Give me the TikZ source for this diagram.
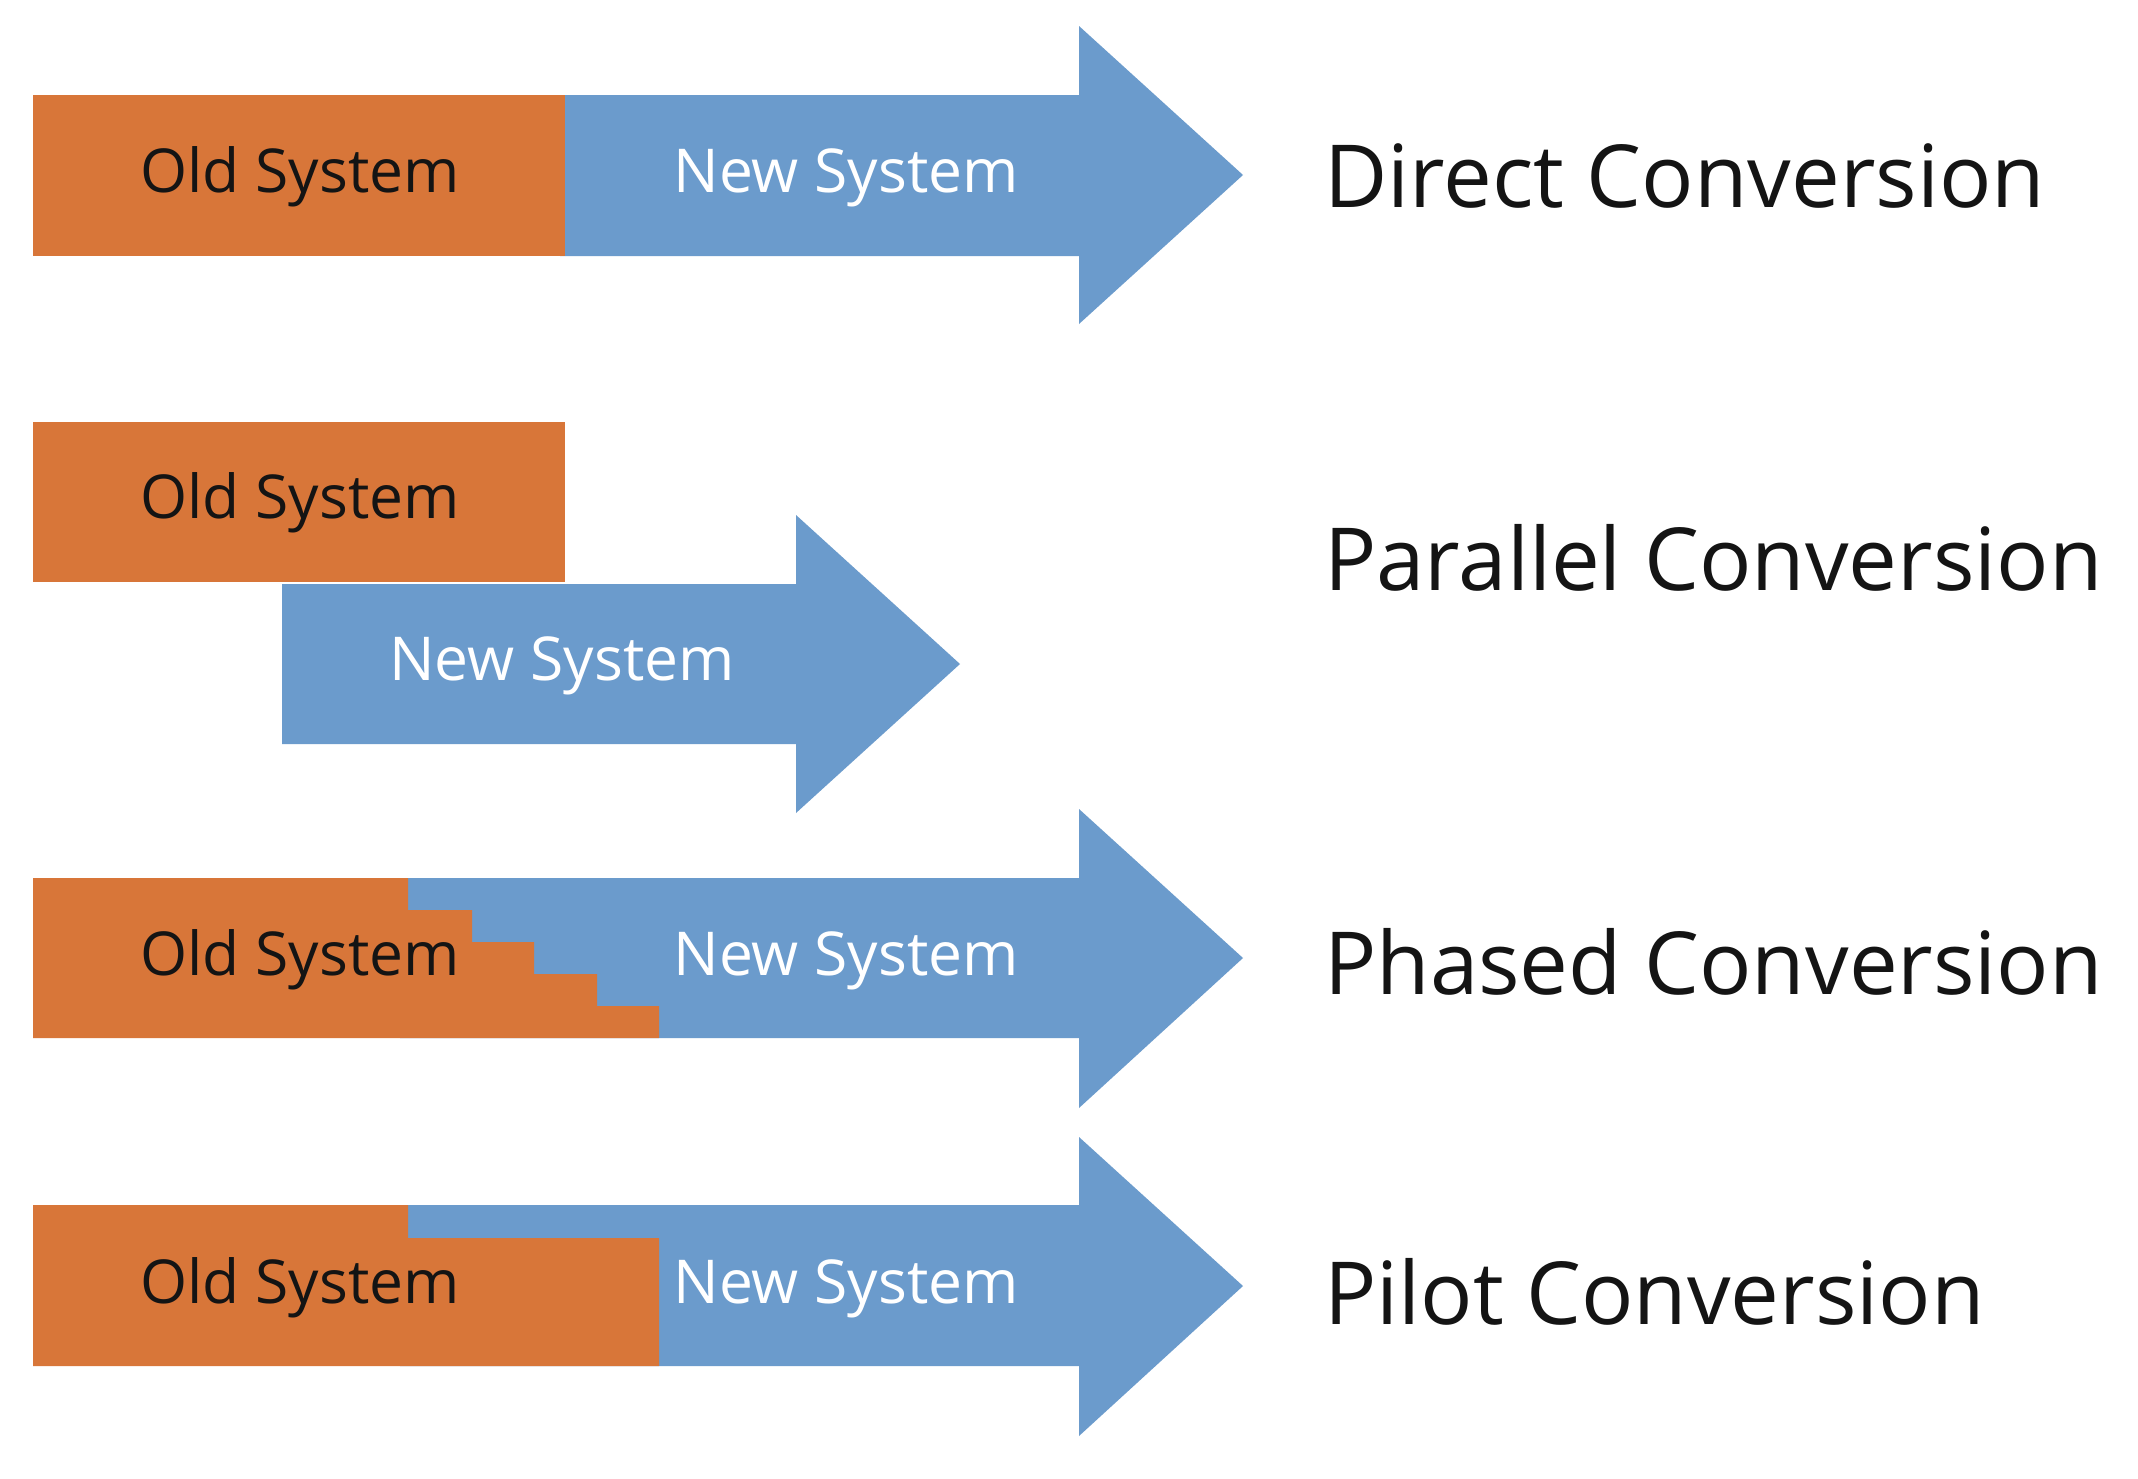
\documentclass[tikz,border=0pt]{standalone}
\usepackage{fontspec}
\setmainfont{Open Sans}
\definecolor{oldc}{RGB}{216,118,57}
\definecolor{newc}{RGB}{107,155,204}
\definecolor{txt}{RGB}{20,20,20}
\begin{document}
\begin{tikzpicture}[x=1pt,y=-1pt,
  boxtext/.style={inner sep=0pt,anchor=base,font=\fontsize{60.5}{70}\selectfont},
  oldtext/.style={boxtext,text=txt},
  newtext/.style={boxtext,text=white},
  label/.style={inner sep=0pt,anchor=base west,text=txt,font=\fontsize{87}{96}\selectfont}]
\useasboundingbox[fill=white] (0,0) rectangle (2138,1478);
% Row 1: Direct
\fill[newc] (560,95) -- (1079,95) -- (1079,26) -- (1243,175) -- (1079,324) -- (1079,256) -- (560,256) -- cycle;
\fill[oldc] (33,95) rectangle (565,256);
\node[oldtext] (o1) at (300,192) {Old System};
\node[newtext] (n1) at (846,192) {New System};
\node[label] (l1) at (1324,207) {Direct Conversion};
% Row 2: Parallel
\fill[oldc] (33,422) rectangle (565,582);
\fill[newc] (282,584) -- (796,584) -- (796,515) -- (960,664) -- (796,813) -- (796,744) -- (282,744) -- cycle;
\node[oldtext] (o2) at (300,518) {Old System};
\node[newtext] (n2) at (562,680) {New System};
\node[label] (l2) at (1324,590) {Parallel Conversion};
% Row 3: Phased
\fill[newc] (400,878) -- (1079,878) -- (1079,809) -- (1243,958) -- (1079,1108) -- (1079,1038) -- (400,1038) -- cycle;
\fill[oldc] (33,878) -- (408,878) -- (408,910) -- (472,910) -- (472,942) -- (534,942) -- (534,974) -- (597,974) -- (597,1006) -- (659,1006) -- (659,1038) -- (33,1038) -- cycle;
\node[oldtext] (o3) at (300,975) {Old System};
\node[newtext] (n3) at (846,975) {New System};
\node[label] (l3) at (1324,994) {Phased Conversion};
% Row 4: Pilot
\fill[newc] (400,1205) -- (1079,1205) -- (1079,1137) -- (1243,1286) -- (1079,1436) -- (1079,1366) -- (400,1366) -- cycle;
\fill[oldc] (33,1205) -- (408,1205) -- (408,1238) -- (659,1238) -- (659,1366) -- (33,1366) -- cycle;
\node[oldtext] (o4) at (300,1303) {Old System};
\node[newtext] (n4) at (846,1303) {New System};
\node[label] (l4) at (1324,1324) {Pilot Conversion};
\end{tikzpicture}
\end{document}
